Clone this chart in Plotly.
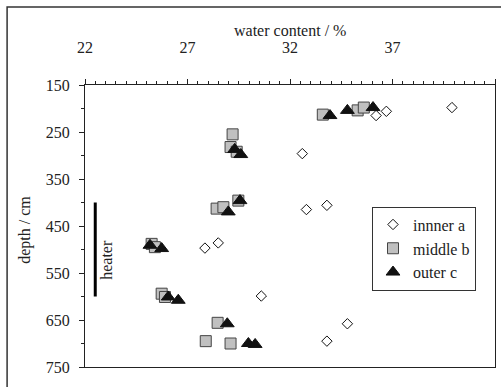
import plotly.graph_objects as go

# --- data (water content %, depth cm) ---
inner_x = [39.9, 36.7, 36.2, 32.6, 32.8, 33.8, 27.85, 28.5, 30.6, 34.8, 33.8]
inner_y = [198, 206, 215, 296, 415, 406, 497, 486, 599, 658, 695]

middle_x = [33.6, 35.3, 35.6, 29.2, 29.1, 29.4, 28.42, 28.75, 29.48, 25.25, 25.41, 25.74, 25.9, 28.47, 27.89, 29.1]
middle_y = [213, 204, 198, 255, 282, 292, 413, 410, 396, 488, 495, 594, 601, 656, 695, 700]

outer_x = [33.95, 34.8, 36.05, 29.3, 29.6, 28.99, 29.56, 25.17, 25.74, 26.06, 26.55, 28.94, 29.97, 30.3]
outer_y = [215, 204, 198, 287, 298, 420, 396, 491, 498, 601, 608, 658, 700, 702]

heater_x = [22.5, 22.5]
heater_y = [400, 600]

FONT = "Liberation Serif, Times New Roman, serif"
TXT = "#222222"
FS = 16

fig = go.Figure()
fig.add_trace(go.Scatter(x=inner_x, y=inner_y, mode="markers", name="innner a",
                         marker=dict(symbol="diamond", size=8, color="white",
                                     line=dict(color="#111111", width=1))))
fig.add_trace(go.Scatter(x=middle_x, y=middle_y, mode="markers", name="middle b",
                         marker=dict(symbol="square", size=11, color="#c0c0c0",
                                     line=dict(color="#444444", width=1))))
fig.add_trace(go.Scatter(x=outer_x, y=outer_y, mode="markers", name="outer c",
                         marker=dict(symbol="triangle-up", size=12, color="#111111",
                                     line=dict(color="#111111", width=1))))
fig.add_trace(go.Scatter(x=heater_x, y=heater_y, mode="lines", showlegend=False,
                         line=dict(color="black", width=3), hoverinfo="skip"))

fig.update_layout(
    width=501, height=387,
    margin=dict(l=85, r=6, t=85, b=20),
    paper_bgcolor="white", plot_bgcolor="white",
    font=dict(family=FONT, size=FS, color=TXT),
    showlegend=True,
    legend=dict(x=0.70, y=0.42, xanchor="left", yanchor="middle",
                bordercolor="#333333", borderwidth=1, bgcolor="white",
                font=dict(family=FONT, size=FS, color=TXT),
                itemwidth=30, tracegroupgap=0),
    xaxis=dict(side="top", range=[22, 42], tick0=22, dtick=5,
               showgrid=False, zeroline=False,
               showline=True, mirror=True, linecolor="#222222", linewidth=1.3,
               ticks="outside", ticklen=5, tickcolor="#222222",
               ticklabelstandoff=19,
               minor=dict(dtick=0.5, tick0=22, ticks="outside", ticklen=3, tickcolor="#222222"),
               tickfont=dict(family=FONT, size=FS, color=TXT)),
    yaxis=dict(range=[750, 150], tick0=150, dtick=100,
               showgrid=False, zeroline=False,
               showline=True, mirror=True, linecolor="#222222", linewidth=1.3,
               ticks="outside", ticklen=5, tickcolor="#222222",
               ticklabelstandoff=6,
               minor=dict(dtick=50, tick0=150, ticks="outside", ticklen=3, tickcolor="#222222"),
               tickfont=dict(family=FONT, size=FS, color=TXT)),
)

# outer frame
fig.add_shape(type="rect", xref="paper", yref="paper",
              x0=-0.190, x1=1.05, y0=-0.12, y1=1.2766,
              line=dict(color="#333333", width=1.5), layer="below")

fig.add_annotation(text="water content / %", xref="paper", yref="paper",
                   x=0.5, y=1.192, xanchor="center", yanchor="middle",
                   showarrow=False, font=dict(family=FONT, size=FS, color=TXT))
fig.add_annotation(text="depth / cm", xref="paper", yref="paper",
                   x=-0.145, y=0.485, xanchor="center", yanchor="middle", textangle=-90,
                   showarrow=False, font=dict(family=FONT, size=FS, color=TXT))
fig.add_annotation(text="heater", xref="x", yref="y",
                   x=23.07, y=522, xanchor="center", yanchor="middle", textangle=-90,
                   showarrow=False, font=dict(family=FONT, size=FS, color=TXT))

fig.write_html("out.html")
